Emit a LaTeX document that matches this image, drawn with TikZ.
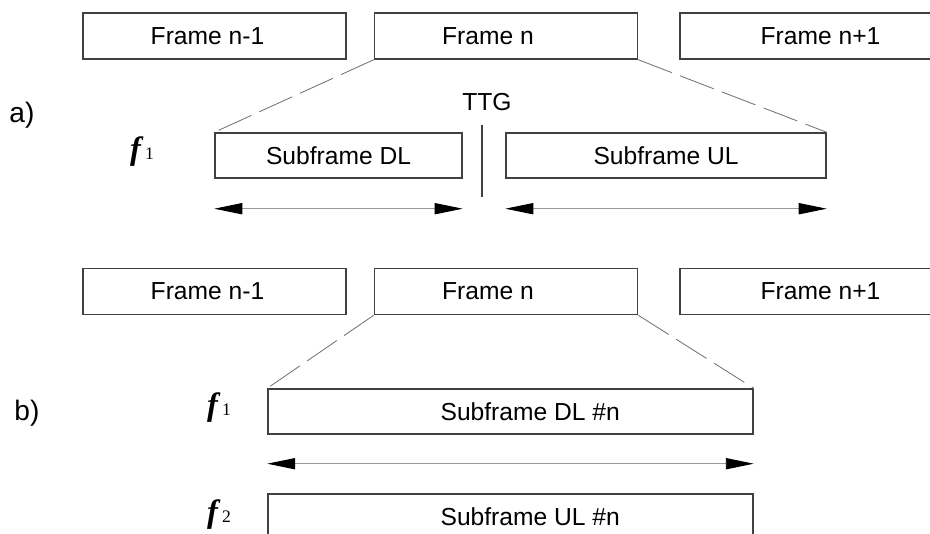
\documentclass[tikz,border=0pt]{standalone}
\usepackage{fontspec}
\setmainfont{Liberation Sans}
\newfontfamily\timesfont{Liberation Serif}
\usepackage{tikz}
\usetikzlibrary{positioning}
\usetikzlibrary{calc}
\usetikzlibrary{arrows.meta}
\definecolor{boxgray}{rgb}{0.25, 0.25, 0.25}
\definecolor{dashgray}{rgb}{0.45, 0.45, 0.45}
\definecolor{shaftgray}{rgb}{0.6, 0.6, 0.6}

\newcommand{\freq}[1]{{\timesfont\fontsize{23}{25}\selectfont\bfseries\itshape f}\hspace{3pt}{\timesfont\fontsize{12.5}{14}\selectfont #1}}

\begin{document}
\begin{tikzpicture}[x=0.025cm, y=-0.025cm,
    every node/.style={font=\fontsize{17.5}{20}\selectfont},
    frame/.style={draw=boxgray, line width=1pt, minimum width=6.575cm, minimum height=1.15cm, inner sep=0pt},
    sub/.style={draw=boxgray, line width=1pt, minimum height=1.125cm, inner sep=0pt},
    spread/.style={draw=dashgray, line width=0.6pt, dash pattern=on 0.9cm off 0.22cm},
    span/.style={draw=shaftgray, line width=0.7pt, {Triangle[length=0.7cm,width=0.28cm,color=black]}-{Triangle[length=0.7cm,width=0.28cm,color=black]}}]
    \useasboundingbox (0,0) rectangle (930,534);
    \clip (0,0) rectangle (930,534);

    % a)
    \node[frame, label={[xshift=-5pt]center:Frame n-1}] (a1) at (214.5,36) {};
    \node[frame, label={[xshift=-12.8pt]center:Frame n}] (a2) at (506,36) {};
    \node[frame, label={[xshift=6.4pt]center:Frame n+1}] (a3) at (811.5,36) {};

    \node[sub, minimum width=6.175cm] (adl) at (338.5,155.5) {Subframe DL};
    \node[sub, minimum width=8cm] (aul) at (666,155.5) {Subframe UL};

    \node (ttg) at (487,102) {TTG};
    \coordinate (gtop) at (482,125);
    \coordinate (gbot) at (482,197);
    \draw[boxgray, line width=1pt] (gtop) -- (gbot);

    \draw[spread] (a2.south west) -- (adl.north west);
    \draw[spread] (a2.south east) -- (aul.north east);
    \draw[span] ($(adl.south west)+(0,30)$) -- ($(adl.south east)+(0,30)$);
    \draw[span] ($(aul.south west)+(0,30)$) -- ($(aul.south east)+(0,30)$);

    \node[font=\fontsize{20}{22}\selectfont] (alab) at (22,115) {a)};
    \node (af1) at (142,152) {\freq{1}};

    % b)
    \node[frame, label={[xshift=-5pt]center:Frame n-1}] (b1) at (214.5,291.5) {};
    \node[frame, label={[xshift=-12.8pt]center:Frame n}] (b2) at (506,291.5) {};
    \node[frame, label={[xshift=6.4pt]center:Frame n+1}] (b3) at (811.5,291.5) {};

    \node[sub, minimum width=12.125cm, label={[xshift=14pt]center:Subframe DL \#n}] (bdl) at (510.5,411.5) {};
    \node[sub, minimum width=12.125cm, label={[xshift=14pt]center:Subframe UL \#n}] (bul) at (510.5,516.5) {};

    \draw[spread] (b2.south west) -- (bdl.north west);
    \draw[spread] (b2.south east) -- (bdl.north east);
    \draw[span] ($(bdl.south west)+(0,29)$) -- ($(bdl.south east)+(0,29)$);

    \node[font=\fontsize{20}{22}\selectfont] (blab) at (27,413) {b)};
    \node (bf1) at (219,408) {\freq{1}};
    \node (bf2) at (219,515) {\freq{2}};
\end{tikzpicture}
\end{document}
